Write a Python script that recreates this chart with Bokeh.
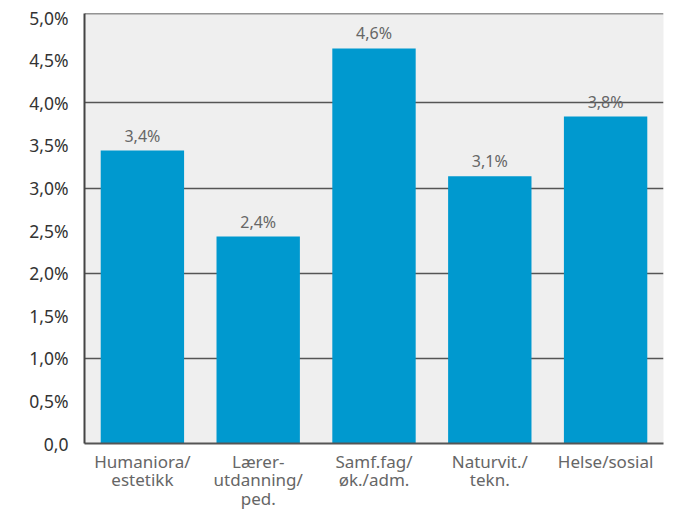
from bokeh.plotting import figure
from bokeh.models import ColumnDataSource, LabelSet, Range1d, FixedTicker, CustomJSTickFormatter, Span
from bokeh.core.properties import value
from bokeh.embed import file_html
from bokeh.resources import INLINE

categories = ["Humaniora/\nestetikk", "Lærer-\nutdanning/\nped.", "Samf.fag/\nøk./adm.", "Naturvit./\ntekn.", "Helse/sosial"]
values = [3.44, 2.43, 4.64, 3.14, 3.84]
y_ticks = [0, 0.5, 1.0, 1.5, 2.0, 2.5, 3.0, 3.5, 4.0, 4.5, 5.0]
grid_ticks = [1.0, 2.0, 3.0, 4.0]
y_max = 5.05

FONT = "Noto Sans"

labels = [f"{v:.1f}".replace(".", ",") + "%" for v in values]
source = ColumnDataSource(data=dict(cat=categories, val=values, label=labels))

p = figure(x_range=categories, y_range=Range1d(0, y_max), width=675, height=513,
           output_backend="svg", toolbar_location=None,
           min_border_left=84, min_border_right=12, min_border_top=13, min_border_bottom=67)

p.vbar(x="cat", top="val", width=0.72, source=source, fill_color="#0099cf", line_color=None)

p.add_layout(LabelSet(x="cat", y="val", text="label", source=source, text_align="center",
                      text_baseline="bottom", y_offset=4, text_font_size="16px",
                      text_color="#666666", text_font=value(FONT)))

p.background_fill_color = "#efefef"
p.border_fill_color = "white"
p.outline_line_color = None

p.xgrid.grid_line_color = None
p.ygrid.ticker = FixedTicker(ticks=grid_ticks)
p.ygrid.grid_line_color = "#555555"
p.ygrid.grid_line_width = 1.6

p.add_layout(Span(location=y_max, dimension="width", line_color="#333333", line_width=1.6))

p.yaxis.ticker = FixedTicker(ticks=y_ticks)
p.yaxis.formatter = CustomJSTickFormatter(code="""
    if (tick == 0) { return "0,0"; }
    return tick.toFixed(1).replace(".", ",") + "%";
""")
p.yaxis.major_tick_line_color = None
p.yaxis.minor_tick_line_color = None
p.yaxis.axis_line_color = "#444444"
p.yaxis.axis_line_width = 2
p.yaxis.major_label_text_font = FONT
p.yaxis.major_label_text_font_size = "17.5px"
p.yaxis.major_label_text_color = "#333333"
p.yaxis.major_label_standoff = 10

p.xaxis.major_tick_line_color = None
p.xaxis.minor_tick_line_color = None
p.xaxis.axis_line_color = "#555555"
p.xaxis.axis_line_width = 2
p.xaxis.major_label_text_font = FONT
p.xaxis.major_label_text_font_size = "17px"
p.xaxis.major_label_text_color = "#666666"
p.xaxis.major_label_text_line_height = 0.82
p.xaxis.major_label_standoff = 0

open("out.html", "w").write(file_html(p, INLINE))
